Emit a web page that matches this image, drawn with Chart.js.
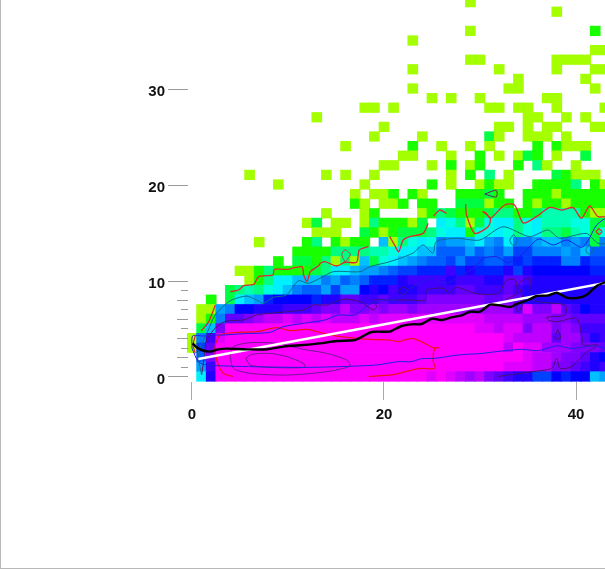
<!DOCTYPE html>
<html>
<head>
<meta charset="utf-8">
<script src="https://cdn.jsdelivr.net/npm/chart.js@4"></script>
<style>
html, body { margin: 0; padding: 0; background: #fff; }
#frame { position: absolute; left: 0; top: 0; width: 604px; height: 568px; border-left: 1px solid #b8b8b8; border-bottom: 1px solid #b8b8b8; pointer-events: none; }
canvas { position: absolute; left: 0; top: 0; }
</style>
</head>
<body>
<canvas id="myChart" width="605" height="569"></canvas>
<div id="frame"></div>
<script>
// density level per cell, top row first (row 39 down to row 0), columns 0..43
const levelRows = [
  [0,0,0,0,0,0,0,0,0,0, 0,0,0,0,0,0,0,0,0,0, 0,0,0,0,0,0,0,0,0,1, 0,0,0,0,0,0,0,0,0,0, 0,0,0,0],
  [0,0,0,0,0,0,0,0,0,0, 0,0,0,0,0,0,0,0,0,0, 0,0,0,0,0,0,0,0,0,0, 0,0,0,0,0,0,0,0,1,0, 0,0,0,0],
  [0,0,0,0,0,0,0,0,0,0, 0,0,0,0,0,0,0,0,0,0, 0,0,0,0,0,0,0,0,0,0, 0,0,0,0,0,0,0,0,0,0, 0,0,0,0],
  [0,0,0,0,0,0,0,0,0,0, 0,0,0,0,0,0,0,0,0,0, 0,0,0,0,0,0,0,0,0,1, 0,0,0,0,0,0,0,0,0,0, 0,0,2,0],
  [0,0,0,0,0,0,0,0,0,0, 0,0,0,0,0,0,0,0,0,0, 0,0,0,1,0,0,0,0,0,0, 0,0,0,0,0,0,0,0,0,0, 0,0,0,0],
  [0,0,0,0,0,0,0,0,0,0, 0,0,0,0,0,0,0,0,0,0, 0,0,0,0,0,0,0,0,0,0, 0,0,0,0,0,0,0,0,0,0, 0,0,1,1],
  [0,0,0,0,0,0,0,0,0,0, 0,0,0,0,0,0,0,0,0,0, 0,0,0,0,0,0,0,0,0,1, 1,0,0,0,0,0,0,0,1,1, 1,1,0,0],
  [0,0,0,0,0,0,0,0,0,0, 0,0,0,0,0,0,0,0,0,0, 0,0,0,1,0,0,0,0,0,0, 0,0,1,0,0,0,0,0,1,0, 0,0,1,1],
  [0,0,0,0,0,0,0,0,0,0, 0,0,0,0,0,0,0,0,0,0, 0,0,0,0,0,0,0,0,0,0, 0,0,0,0,1,0,0,0,0,0, 0,1,0,0],
  [0,0,0,0,0,0,0,0,0,0, 0,0,0,0,0,0,0,0,0,0, 0,0,0,1,0,0,0,0,0,0, 0,0,0,1,1,0,0,0,0,0, 0,0,1,0],
  [0,0,0,0,0,0,0,0,0,0, 0,0,0,0,0,0,0,0,0,0, 0,0,0,0,0,1,0,1,0,0, 1,0,0,0,0,0,0,1,1,0, 0,0,0,0],
  [0,0,0,0,0,0,0,0,0,0, 0,0,0,0,0,0,0,0,1,1, 0,1,0,0,0,0,0,0,0,0, 0,1,1,0,1,1,0,0,1,0, 0,0,0,1],
  [0,0,0,0,0,0,0,0,0,0, 0,0,0,1,0,0,0,0,0,0, 0,0,0,0,0,0,0,0,0,0, 0,0,0,0,0,1,1,0,0,1, 0,1,0,0],
  [0,0,0,0,0,0,0,0,0,0, 0,0,0,0,0,0,0,0,0,0, 1,0,0,0,0,0,0,0,0,0, 0,0,1,1,0,1,0,1,1,0, 0,0,1,1],
  [0,0,0,0,0,0,0,0,0,0, 0,0,0,0,0,0,0,0,0,1, 0,0,0,0,1,0,0,0,0,0, 0,3,1,0,0,1,1,1,0,1, 0,0,0,0],
  [0,0,0,0,0,0,0,0,0,0, 0,0,0,0,0,0,1,0,0,0, 0,0,0,2,0,0,1,0,0,1, 0,1,0,0,0,0,2,0,2,1, 1,1,0,0],
  [0,0,0,0,0,0,0,0,0,0, 0,0,0,0,0,0,0,0,0,0, 0,0,1,1,0,0,0,1,0,0, 2,0,1,0,1,3,2,0,1,0, 0,3,0,0],
  [0,0,0,0,0,0,0,0,0,0, 0,0,0,0,0,0,0,0,0,0, 1,1,0,0,0,1,0,2,0,1, 2,0,0,0,2,0,4,1,0,0, 1,0,0,0],
  [0,0,0,0,0,0,1,0,0,0, 0,0,0,0,1,0,1,0,0,1, 0,0,0,0,0,0,0,1,0,2, 0,4,0,1,0,0,0,0,3,2, 1,1,1,0],
  [0,0,0,0,0,0,0,0,0,1, 0,0,0,0,0,0,0,0,1,0, 0,0,0,0,0,2,0,1,0,0, 1,2,1,1,0,0,2,2,2,2, 4,0,2,1],
  [0,0,0,0,0,0,0,0,0,0, 0,0,0,0,0,0,0,1,0,1, 1,2,0,2,1,0,0,0,2,2, 2,3,2,0,0,2,2,2,1,2, 2,2,2,2],
  [0,0,0,0,0,0,0,0,0,0, 0,0,0,0,0,0,0,2,1,0, 1,1,2,0,2,2,0,0,3,3, 3,1,2,2,0,2,1,2,2,1, 2,2,2,2],
  [0,0,0,0,0,0,0,0,0,0, 0,0,0,0,1,0,0,0,1,2, 0,0,0,0,1,2,4,3,2,2, 2,3,4,4,2,2,3,5,5,5, 5,2,1,1],
  [0,0,0,0,0,0,0,0,0,0, 0,0,1,3,0,1,1,0,1,4, 2,2,2,1,3,0,7,6,4,1, 3,6,7,7,4,6,7,5,5,5, 6,6,3,3],
  [0,0,0,0,0,0,0,0,0,0, 0,0,0,1,1,1,0,0,3,2, 1,2,3,3,3,4,6,7,7,2, 6,6,7,6,4,6,7,4,4,3, 5,6,3,6],
  [0,0,0,0,0,0,0,1,0,0, 0,0,2,4,0,2,1,2,2,0, 8,1,4,6,7,6,10,9,9,8, 7,9,10,7,10,10,9,8,8,10, 9,10,3,10],
  [0,0,0,0,0,0,0,0,0,0, 0,2,2,2,2,4,4,4,4,5, 5,6,7,7,8,8,11,11,11,9, 11,10,11,9,12,12,10,10,10,9, 10,8,11,11],
  [0,0,0,0,0,0,0,0,0,2, 0,3,3,2,4,1,4,1,8,3, 6,7,8,9,10,11,11,12,10,12, 12,11,11,12,13,12,13,13,13,10, 10,13,12,12],
  [0,0,0,0,0,1,1,2,4,2, 2,2,2,3,4,7,7,8,9,9, 10,11,12,12,13,13,13,16,13,15, 13,13,13,15,12,15,14,14,14,14, 14,14,13,13],
  [0,0,0,0,0,0,1,2,4,7, 7,8,8,8,10,9,11,10,11,13, 13,13,15,16,16,16,16,15,16,16, 16,15,15,17,17,16,15,15,15,15, 15,15,15,15],
  [0,0,0,0,3,4,5,4,6,7, 8,10,11,11,9,12,9,9,14,15, 14,16,15,15,16,16,16,16,17,17, 16,16,16,17,16,15,15,15,15,15, 15,15,15,15],
  [0,0,2,0,3,7,8,9,13,14, 14,14,14,13,15,15,17,17,16,16, 17,16,16,16,17,18,18,18,18,18, 18,17,17,18,17,15,15,15,15,15, 15,15,15,15],
  [0,1,1,9,10,14,14,15,15,15, 16,16,16,17,18,18,20,18,18,19, 18,19,19,18,19,19,19,19,19,19, 19,19,19,19,17,21,18,18,20,17, 16,14,15,15],
  [0,1,2,10,17,17,18,19,20,20, 21,20,21,20,21,20,20,20,21,20, 21,21,21,21,21,21,21,21,21,21, 21,20,20,20,20,19,19,19,18,18, 17,17,17,17],
  [0,3,8,18,22,22,22,22,22,22, 22,22,22,22,22,22,22,22,22,22, 22,22,22,22,22,22,22,22,22,22, 21,21,20,21,21,18,20,20,18,19, 18,16,16,16],
  [1,10,16,21,22,22,22,22,22,22, 22,22,22,22,22,22,22,22,22,22, 22,22,22,22,22,22,22,22,22,22, 22,22,22,21,20,20,20,20,17,19, 19,17,15,16],
  [1,12,17,22,22,22,22,22,22,22, 22,22,22,22,22,22,22,22,22,22, 22,22,22,22,22,22,22,22,22,22, 22,22,22,20,22,21,21,19,19,19, 18,18,18,17],
  [0,11,18,22,22,22,22,22,22,22, 22,22,22,22,22,22,22,22,22,22, 22,22,22,22,22,22,22,22,22,22, 22,22,22,22,22,21,20,20,19,18, 18,17,15,14],
  [0,9,16,22,22,22,22,22,22,22, 22,22,22,22,22,22,22,22,22,22, 22,22,22,22,22,22,22,22,22,22, 22,22,22,21,21,21,20,20,18,18, 17,16,15,16],
  [0,7,15,22,22,22,22,22,22,22, 22,22,22,22,22,22,22,22,22,22, 22,22,22,22,22,21,22,21,20,19, 20,18,17,16,15,15,12,12,14,13, 14,14,8,9]
];
const levelColors = ['#ffffff','#a4ff00','#18ff00','#00ff40','#00ff80','#00ffb0','#00ffe0','#00f0ff','#00c0ff','#00a0ff','#0080ff','#0060ff','#0040ff','#0020ff','#0000ff','#2000ff','#4000ff','#6000ff','#8000ff','#a000ff','#c000ff','#e000ff','#ff00ff'];

const xTickValues = [0, 20, 40];
const yTickValues = [0, 1, 2, 3, 4, 5, 6, 7, 8, 9, 10, 20, 30];

// fitted straight line and running median
const whiteLine = [[0.66,1.82],[43.1,9.75]];
const blackLine = [[0.07,3.45],[0.49,3.04],[1,2.76],[1.88,2.59],[2.74,2.83],[3.61,2.9],[5.69,2.83],[7.78,2.83],[9.51,3.11],[11.6,3.28],[13.33,3.45],[15.07,3.7],[16.98,3.8],[17.85,4.22],[18.72,4.64],[20.6,4.67],[20.97,4.84],[21.84,5.26],[22.88,5.43],[23.92,5.47],[24.97,6.02],[26,5.89],[27.05,6.16],[28.09,6.37],[28.96,6.75],[30,6.75],[31.04,7.48],[32.08,7.41],[33.13,7.24],[34,7.62],[35.03,7.97],[35.9,8.39],[37.12,8.45],[37.99,8.73],[39.03,8.21],[40.07,8.18],[41.1,8.49],[42.15,9.43],[43.1,9.85]];

// contours
const blueUpper = [[0,2.93],[0.07,4.22],[1.18,4.22],[2.22,4.32],[3.26,4.32],[5.35,4.46],[8.13,4.6],[9.51,5.19],[11.6,5.54],[13.85,5.89],[15.24,6.41],[16.98,6.41],[18.37,7.45],[19.76,7.97],[21.15,7.97],[23.06,9.36],[24.97,10.23],[26.35,9.7],[27.92,10.4],[29.48,11.44],[30.35,12.3],[31.74,12.48],[32.95,11.86],[34.51,12.83],[36.08,14.32],[37.64,13.7],[39.03,14.22],[40.59,13.45],[41.29,14.22],[42.15,15.78],[43.5,16.8]];
const blueLower = [[0,2.93],[0.66,1.55],[1.53,1.2],[6.39,1.02],[11.6,0.95],[15.07,1.02],[19.24,1.2],[21.5,1.55],[22.9,1.55],[23.9,1.86],[25.3,1.89],[27.7,2.24],[30.2,2.41],[32.6,2.69],[34.35,2.83],[36.1,2.69],[38,3.2],[39.55,2.93],[41.98,3.2],[43.1,2.83]];
const redInner = [[4.31,0],[3.26,0.33],[2.57,1.72],[2.4,3.1],[2.92,4.32],[4.31,4.57],[6.74,4.67],[8.82,5.09],[10.2,4.77],[11.94,4.91],[14.03,4.42],[16.1,4.08],[18.54,3.87],[20.6,3.8],[21.5,3.63],[22.9,3.98],[23.9,3.63],[25.1,3],[25.7,3],[25.3,2.93],[25.1,1.72],[25.3,0.85],[23.75,0.85],[22.2,0.5],[20.8,0.16],[18.4,0]];
const redLeftA = [[0.35,4.25],[0.1,3.28],[0.35,2.4]];
const redLeftB = [[0.97,4.74],[1.74,5.71],[2.43,7.45]];
const redTopA = [[4,8.84],[4.86,9.01],[5.38,9.46],[6.42,9.6],[6.94,10.4],[7.8,10.5],[8.44,10.57],[8.58,11.16],[9.9,11.16],[11.46,11.44],[11.63,10.57],[11.98,9.88],[12.33,10.92],[13.19,11.54],[13.37,11.79],[13.85,11.96],[15.07,11.51],[15.94,11.9],[17.15,11.9],[17.43,13.18],[18.37,13.53]];
const redLoopA = [[15.94,11.9],[15.6,12.7],[15.94,13.2],[16.5,12.7],[15.94,11.9]];
const redTopB = [[20.6,14.57],[21.1,13.7],[21.53,13],[22,14.22],[22.7,14.57],[24.07,14.91],[24.6,15.95]];
const redTopC = [[25.17,16.72],[25.8,17.34],[26.5,17]];
const redTopD = [[28.5,17.97],[28.6,16.82],[29.45,14.91],[30.85,15.6],[31.08,16.47],[30.3,17.17],[30.65,17],[31.08,16.47],[32.57,17.87],[33.6,17.87],[34.5,16],[35.87,16.65],[37.26,17.62],[38.47,17.34],[39.7,17.59],[40.56,16.47],[41.43,17.76],[42.3,16.65],[43.5,16.72]];
const redLoopB = [[42.4,15.4],[42.1,15.1],[42.4,14.8],[42.7,15.1],[42.4,15.4]];
const tealMain = [[1,0.16],[0.66,2.41],[1.7,4.84],[2.4,6.4],[3.61,7.62],[4.31,8.04],[5.69,8.38],[6.74,7.97],[7.43,7.62],[8.47,8.25],[9.86,8.49],[11.08,9.98],[12.12,9.7],[13.33,10.23],[14.72,10.92],[17.5,10.92],[18.54,11.44],[20.6,11.96],[23,12.84],[24.07,13.7],[25.1,12.84],[25.45,14.05],[27.54,14.4],[29.97,14.22],[32.4,15.6],[35.17,14.57],[37.08,15.26],[38.3,14.4],[41.08,14.9],[42.3,13.87],[43.5,13.87]];
const tealOvalA = [[33.5,14.8],[33.1,14.2],[33.5,13.6],[33.9,14.2],[33.5,14.8]];
const tealOvalB = [[41.4,13.7],[41,13.2],[41.4,12.7],[41.8,13.2],[41.4,13.7]];
const purpleOuter = [[1,0.16],[1.18,1.37],[1.53,3.8],[2.57,5.19],[3.61,5.78],[5.35,5.89],[6.74,6.41],[9.86,6.75],[11.6,6.93],[12.64,7.45],[14.03,7.45],[15.76,8.04],[17.5,7.8],[18.89,6.93],[19.24,7.27],[18.89,7.97],[20.6,7.97],[22.5,7.97],[24.27,7.97],[24.44,9.01],[26.35,9.18],[26.7,8.66],[27.57,9.29],[29.48,8.66],[31.9,8.66],[32.78,10.05],[33.65,10.05],[33.82,8.66],[32.6,7.97],[33.47,7.8],[34,6.75],[34.5,7.8],[34.1,9.7],[35.2,10.23],[35.55,7.97],[38.85,7.45],[38.85,6.41],[36.95,6.16],[37.1,5.88],[38,5.7],[40.07,6.06],[40.6,4.15],[40.77,3.28],[42.3,3.28],[40.94,2.41],[39.55,1.02],[38.33,0.85],[38,1.89],[37.47,0.85],[35.38,0.5],[31.9,0]];
const purpleOval = [[21.5,8.9],[22,9.3],[22.5,9],[22,8.5],[21.5,8.9]];
const purpleDrop = [[38.1,4.9],[37.8,4],[38.4,4],[38.1,4.9]];
const purpleSmall = [[30.5,19],[31.7,19.4],[31.7,18.7],[30.5,19]];
const purpleMid = [[3.96,2.07],[4.31,3.1],[6.04,3.52],[8.82,3.45],[11.6,2.83],[14.03,2.41],[16.1,1.72],[16.46,1.09],[14.03,0.5],[9.86,0.15],[6.04,0.33],[4.31,0.85],[3.96,2.07]];
const purpleCore = [[5.6,1.89],[6.2,2.3],[8.1,2.41],[9.9,2.07],[11.6,1.37],[11.77,0.95],[8.1,0.95],[6.04,1.2],[5.6,1.89]];

function contorno(puntos, color, ancho, orden) {
    return {
        type: 'line',
        data: puntos.map(function (p) { return { x: p[0], y: p[1] } }),
        borderColor: color,
        borderWidth: ancho,
        pointRadius: 0,
        tension: 0.25,
        fill: false,
        order: orden
    };
}

var celdas = [];
var colores = [];
for (var i = 0; i < levelRows.length; i++) {
    var fila = levelRows.length - 1 - i;
    for (var c = 0; c < levelRows[i].length; c++) {
        if (levelRows[i][c] > 0) {
            celdas.push({ x: c, y: [fila - 0.5, fila + 0.5] });
            colores.push(levelColors[levelRows[i][c]]);
        }
    }
}

// tick marks of the y axis, long at the labelled values
const marcasY = {
    id: 'marcasY',
    afterDraw(chart) {
        const esc = chart.scales.y;
        const ctx = chart.ctx;
        ctx.save();
        ctx.strokeStyle = '#9a9a9a';
        ctx.lineWidth = 1;
        for (const t of esc.ticks) {
            var largo = t.value % 10 == 0 ? 20 : (t.value % 2 == 0 ? 11 : 7);
            var py = Math.round(esc.getPixelForValue(t.value)) + 0.5;
            ctx.beginPath();
            ctx.moveTo(188 - largo, py);
            ctx.lineTo(188, py);
            ctx.stroke();
        }
        ctx.restore();
    }
};

const myChart = new Chart(document.getElementById('myChart'), {
    type: 'bar',
    data: {
        datasets: [
            contorno(blackLine, '#000000', 2.4, 0),
            contorno(whiteLine, '#ffffff', 2.4, 1),
            contorno(blueUpper, '#1f1fe0', 1, 2),
            contorno(blueLower, '#1f1fe0', 1, 2),
            contorno(redInner, '#f0101c', 1.2, 3),
            contorno(redLeftA, '#e8201c', 1.2, 3),
            contorno(redLeftB, '#e8201c', 1.2, 3),
            contorno(redTopA, '#dc2a30', 1.3, 3),
            contorno(redLoopA, '#b8404a', 1, 3),
            contorno(redTopB, '#dc2a30', 1.3, 3),
            contorno(redTopC, '#dc2a30', 1.3, 3),
            contorno(redTopD, '#dc2a30', 1.3, 3),
            contorno(redLoopB, '#dc2a30', 1.2, 3),
            contorno(tealMain, '#0d6f88', 1, 4),
            contorno(tealOvalA, '#0d6f88', 1, 4),
            contorno(tealOvalB, '#0d6f88', 1, 4),
            contorno(purpleOuter, '#4a1070', 1, 5),
            contorno(purpleOval, '#4a1070', 1, 5),
            contorno(purpleDrop, '#4a1070', 1, 5),
            contorno(purpleSmall, '#6a2060', 1, 5),
            contorno(purpleMid, '#701a90', 1, 5),
            contorno(purpleCore, '#701a90', 1, 5),
            {
                type: 'bar',
                data: celdas,
                backgroundColor: colores,
                borderWidth: 0,
                barThickness: 10,
                order: 10
            }
        ]
    },
    options: {
        responsive: false,
        animation: false,
        layout: { padding: 0, autoPadding: false },
        plugins: { legend: { display: false }, tooltip: { enabled: false } },
        scales: {
            x: {
                type: 'linear',
                offset: false,
                min: -0.52,
                max: 43.02,
                afterFit(s) { s.height = 187; s.paddingLeft = 0; s.paddingRight = 0 },
                afterBuildTicks(s) { s.ticks = xTickValues.map(function (v) { return { value: v } }) },
                border: { display: false },
                grid: { offset: false, drawOnChartArea: false, tickLength: 18, tickColor: '#aaaaaa', tickWidth: 1 },
                ticks: { autoSkip: false, maxRotation: 0, padding: 6, color: '#111', font: { family: 'Liberation Sans', size: 15, weight: 'bold' } }
            },
            y: {
                type: 'linear',
                min: -0.573,
                max: 39.219,
                afterFit(s) { s.width = 187; s.paddingTop = 0; s.paddingBottom = 0 },
                afterBuildTicks(s) { s.ticks = yTickValues.map(function (v) { return { value: v } }) },
                border: { display: false },
                grid: { display: false },
                ticks: {
                    autoSkip: false,
                    padding: 14,
                    labelOffset: 3,
                    color: '#111',
                    font: { family: 'Liberation Sans', size: 15, weight: 'bold' },
                    callback: function (v) { return v % 10 == 0 ? String(v) : '' }
                }
            }
        }
    },
    plugins: [marcasY]
});
</script>
</body>
</html>
